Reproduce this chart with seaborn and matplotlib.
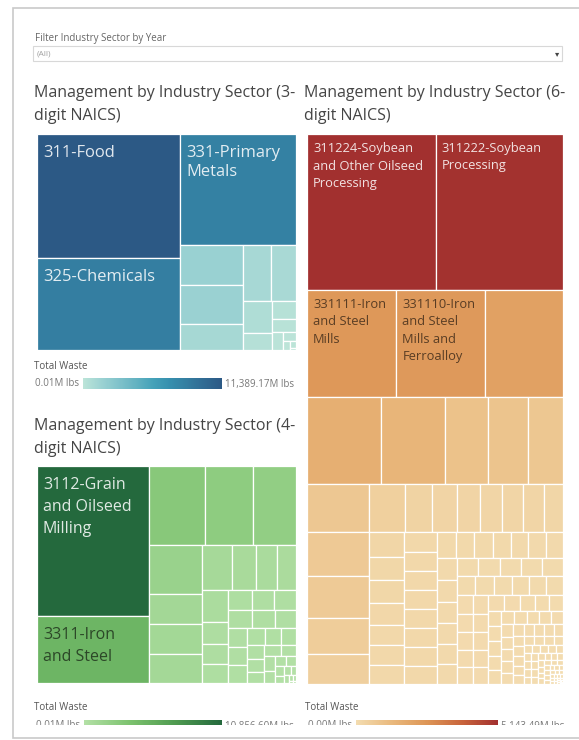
import matplotlib
matplotlib.use("Agg")
import matplotlib.pyplot as plt
from matplotlib.patches import Rectangle
import numpy as np
import seaborn as sns

# ---- total waste managed by sector (million lbs) ----
naics3_labels = ["311-Food", "325-Chemicals", "331-Primary\nMetals"]
naics3_waste = [11389.17, 8450, 8256, 1631, 1578, 1040, 1022, 906,
                615, 323, 272, 194, 129, 78, 39, 26, 6, 0.01]

naics4_labels = ["3112-Grain\nand Oilseed\nMilling", "3311-Iron\nand Steel"]
naics4_waste = [10856.60, 4809, 2867, 2458, 2202, 1701, 1063, 1050, 992,
                886, 679, 620, 561, 546, 358, 341, 324,
                300, 290, 280, 270, 260, 240, 230, 220, 210, 200,
                180, 170, 160, 150, 130, 120, 110, 100,
                85, 75, 65, 55, 45, 35, 28, 22, 16, 12, 8, 4, 0.01]

naics6_labels = ["311224-Soybean\nand Other Oilseed\nProcessing",
                 "311222-Soybean\nProcessing",
                 "331111-Iron\nand Steel\nMills",
                 "331110-Iron\nand Steel\nMills and\nFerroalloy"]
naics6_waste = [5143.49, 5103, 2453, 2425, 2150, 1658, 1412, 964, 896, 784,
                773, 687, 671, 575, 479,
                445, 334, 297, 284, 272, 260, 258, 235,
                225, 207, 206, 198, 180, 179, 171,
                165, 163, 161, 160, 158, 157, 155, 153,
                128, 126, 124, 122, 120, 118, 116,
                112, 110, 108, 106, 104, 102, 100, 100,
                99, 97, 95, 93, 91, 89,
                86, 84, 82, 80, 78, 76,
                73, 71, 70, 70, 69, 67, 65, 63, 61,
                58, 56, 54, 52, 50, 48, 47, 47, 46, 44,
                42, 41, 40, 39, 38, 37, 36, 35,
                33, 32, 31, 30, 29, 28, 27, 26, 25, 24,
                23, 22, 21, 20, 19, 18, 17.5, 17, 16.5, 16,
                15.5, 15, 14.5, 14, 13.5, 13, 12.5, 12, 11.5, 11,
                10.5, 10, 9.6, 9.2, 8.8, 8.4, 8, 7.6, 7.2, 6.8,
                6.4, 6, 5.7, 5.4, 5.1, 4.8, 4.5, 4.2, 3.9, 3.6,
                3.3, 3, 2.7, 2.5, 2.3, 2.1, 1.9, 1.7, 1.5, 1.3,
                1.1, 0.9, 0.7, 0.5, 0.3, 0.004]

titles = ["Management by Industry Sector (3-\ndigit NAICS)",
          "Management by Industry Sector (4-\ndigit NAICS)",
          "Management by Industry Sector (6-\ndigit NAICS)"]

# ---- style ----
sns.set_theme(style="white")
plt.rcParams["font.family"] = ["Open Sans", "DejaVu Sans"]

blue_cmap = sns.blend_palette(["#bce4d8", "#9dd3d3", "#81c3cb", "#65b3c2", "#45a2b9",
                               "#368fae", "#347da0", "#306a93", "#2c5985"], as_cmap=True)
green_cmap = sns.blend_palette(["#b3e0a6", "#7cc26e", "#4e9a50", "#24693d"], as_cmap=True)
orange_cmap = sns.blend_palette(["#f3dcb0", "#e9b97d", "#dd9556", "#c8643c", "#a2302f"],
                                as_cmap=True)

W, H = 579, 740
fig = plt.figure(figsize=(W / 100, H / 100), dpi=100)
fig.patch.set_facecolor("white")


def px_axes(x0, y0, x1, y1):
    return fig.add_axes([x0 / W, 1 - y1 / H, (x1 - x0) / W, (y1 - y0) / H])


def ftext(x, y, s, **kw):
    return fig.text(x / W, 1 - y / H, s, **kw)


# ---- squarified treemap layout ----
def worst(row, side):
    s = sum(row)
    return max(max(side * side * r / (s * s), (s * s) / (side * side * r)) for r in row)


def place(row, x, y, w, h):
    s = sum(row)
    cells = []
    if w >= h:
        cw = s / h
        yy = y
        for r in row:
            rh = r / cw
            cells.append((x, yy, cw, rh))
            yy += rh
        return cells, (x + cw, y, w - cw, h)
    rh = s / w
    xx = x
    for r in row:
        rw = r / rh
        cells.append((xx, y, rw, rh))
        xx += rw
    return cells, (x, y + rh, w, h - rh)


def treemap_layout(values, w, h, strips):
    total = sum(values)
    areas = [v * w * h / total for v in values]
    rect = (0.0, 0.0, w, h)
    cells = []
    i = 0
    for n in strips:
        out, rect = place(areas[i:i + n], *rect)
        cells += out
        i += n
    while i < len(areas):
        side = min(rect[2], rect[3])
        row = [areas[i]]
        i += 1
        while i < len(areas) and worst(row + [areas[i]], side) <= worst(row, side):
            row.append(areas[i])
            i += 1
        out, rect = place(row, *rect)
        cells += out
    return cells


def draw_treemap(box, values, labels, cmap, strips, fontsize, linespacing, pad):
    x0, y0, x1, y1 = box
    w, h = x1 - x0, y1 - y0
    ax = px_axes(x0, y0, x1, y1)
    ax.set_xlim(0, w)
    ax.set_ylim(h, 0)
    ax.axis("off")
    norm = plt.Normalize(min(values), max(values))
    cells = treemap_layout(values, w, h, strips)
    for k, ((cx, cy, cw, ch), v) in enumerate(zip(cells, values)):
        color = cmap(norm(v))
        ax.add_patch(Rectangle((cx, cy), cw, ch, facecolor=color,
                               edgecolor="white", linewidth=0.9))
        if k < len(labels):
            lum = 0.299 * color[0] + 0.587 * color[1] + 0.114 * color[2]
            tc = (1, 1, 1, 0.86) if lum < 0.5 else tuple(c * 0.4 for c in color[:3])
            ax.text(cx + pad[0], cy + pad[1], labels[k], ha="left", va="top",
                    fontsize=fontsize, color=tc, linespacing=linespacing)
    return ax


def draw_legend(x, y, bar_x0, bar_x1, cmap, values):
    ftext(x, y, "Total Waste", fontsize=7, color="#555555", va="center", ha="left")
    ax = px_axes(bar_x0, y + 12, bar_x1, y + 23)
    sns.heatmap(np.linspace(0, 1, 256)[np.newaxis, :], cmap=cmap, cbar=False, ax=ax,
                xticklabels=False, yticklabels=False)
    yc = y + 18
    ftext(bar_x0 - 4, yc, f"{min(values):,.2f}M lbs", fontsize=7, color="#777777",
          ha="right", va="center")
    ftext(bar_x1 + 3, yc, f"{max(values):,.2f}M lbs", fontsize=7, color="#777777",
          ha="left", va="center")


# ---- dashboard frame and filter ----
fig.add_artist(Rectangle((13 / W, 1 - 738 / H), 600 / W, 730 / H, transform=fig.transFigure,
                         facecolor="white", edgecolor="#c9c9c9", linewidth=1.2, zorder=-5))
ftext(35, 39, "Filter Industry Sector by Year", fontsize=7, color="#666666", va="center")
fig.add_artist(Rectangle((33 / W, 1 - 61 / H), 529 / W, 15 / H, transform=fig.transFigure,
                         facecolor="white", edgecolor="#d8d8d8", linewidth=0.8))
ftext(37, 54, "(All)", fontsize=6, color="#a0a0a0", va="center")
ftext(557, 54, "\u25be", fontsize=6, color="#444444", va="center", ha="center",
      family="DejaVu Sans")

# ---- titles ----
title_kw = dict(fontsize=11.5, color="#454545", va="top", ha="left", linespacing=1.55)
ftext(34, 85, titles[0], **title_kw)
ftext(34, 418, titles[1], **title_kw)
ftext(304, 85, titles[2], **title_kw)

# ---- treemaps ----
draw_treemap((37, 134, 296, 350), naics3_waste, naics3_labels, blue_cmap,
             strips=[2, 1, 3, 2], fontsize=11.9, linespacing=1.25, pad=(6, 11))
draw_treemap((37, 466, 296, 683), naics4_waste, naics4_labels, green_cmap,
             strips=[2, 3, 4, 4, 4], fontsize=11.5, linespacing=1.5, pad=(6, 11))
draw_treemap((307, 134, 563, 684), naics6_waste, naics6_labels, orange_cmap,
             strips=[2, 3, 5, 5, 8, 7, 8, 7], fontsize=9.3, linespacing=1.45, pad=(6, 8))

# ---- colour legends ----
draw_legend(34, 366, 83, 222, blue_cmap, naics3_waste)
draw_legend(34, 708, 84, 222, green_cmap, naics4_waste)
draw_legend(305, 708, 356, 498, orange_cmap, naics6_waste)

# bottom edge of the dashboard container crops the lower legends
fig.add_artist(Rectangle((14 / W, 1 - 737 / H), 570 / W, 12 / H, transform=fig.transFigure,
                         facecolor="white", edgecolor="none", zorder=20))

fig.savefig("out.png", dpi=100, facecolor="white")
